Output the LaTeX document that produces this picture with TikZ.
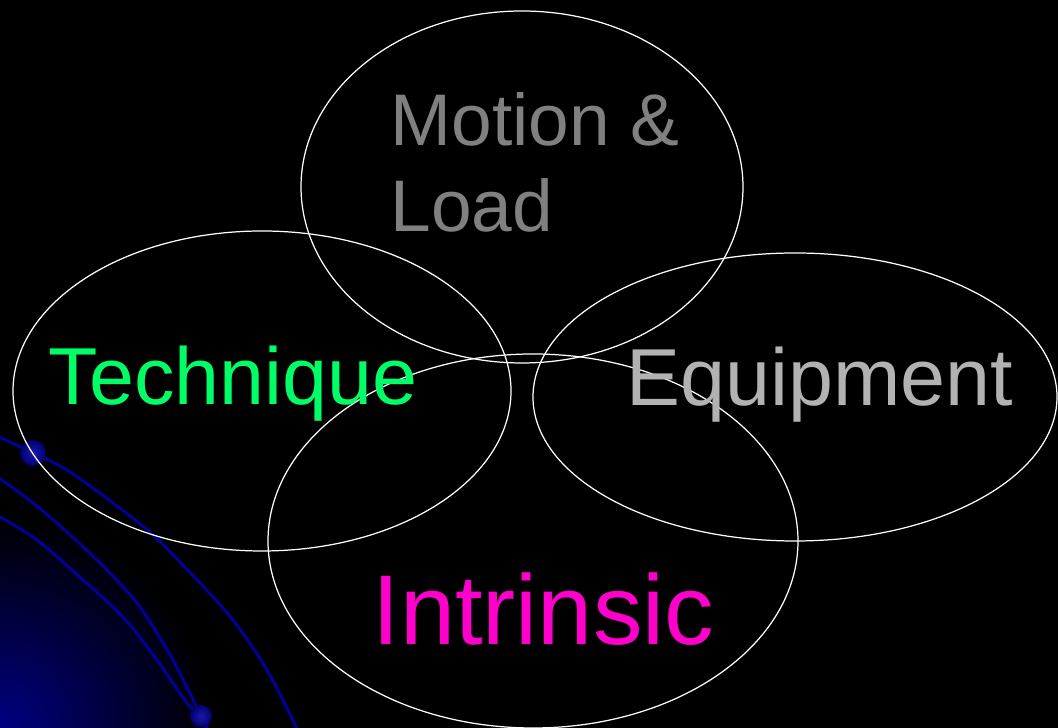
\documentclass[tikz,border=0pt]{standalone}
\usepackage{fontspec}
\setmainfont{Liberation Sans}
\usetikzlibrary{shapes.geometric}

\definecolor{motiongray}{RGB}{128,128,128}
\definecolor{equipgray}{RGB}{178,178,178}
\definecolor{techgreen}{RGB}{0,255,102}
\definecolor{intrmagenta}{RGB}{255,0,204}
\definecolor{swirlblue}{RGB}{0,0,160}
\definecolor{cornerblue}{RGB}{0,0,130}

\begin{document}
\begin{tikzpicture}[
		x=0.1mm, y=-0.1mm,
		% Styles
		ring/.style={draw=white, line width=0.35pt, ellipse, inner sep=0pt},
		word/.style={anchor=base west, inner sep=0pt, align=left},
		swirl/.style={draw=swirlblue, line width=0.8pt},
		bead/.style={inner color=swirlblue!90!white, outer color=swirlblue!70!black}
		]
		
		% =========================================================
		% 1. BACKGROUND: black slide with the blue corner
		% =========================================================
		\fill[black] (0,0) rectangle (1058,728);
		\useasboundingbox (0,0) rectangle (1058,728);
		
		\begin{scope}
			\clip (0,0) rectangle (1058,728);
			\shade[inner color=cornerblue, outer color=black] (0,728) circle[radius=21mm];
			
			% Swirl lines
			\draw[swirl] plot[smooth] coordinates {(-5,435) (33,453) (67,470) (113,503) (153,535) (197,580) (233,620) (267,670) (300,735)};
			\draw[swirl] plot[smooth] coordinates {(-5,475) (33,503) (67,532) (107,570) (140,607) (173,660) (201,716) (210,735)};
			\draw[swirl] plot[smooth] coordinates {(-5,514) (37,540) (83,580) (123,617) (157,660) (187,703) (201,716)};
			
			% Beads
			\shade[bead] (33,453) circle[radius=1.3mm];
			\shade[bead] (201,716) circle[radius=1.1mm];
		\end{scope}
		
		% =========================================================
		% 2. THE FOUR RINGS
		% =========================================================
		\node[ring, minimum width=44.2mm, minimum height=35.2mm] (motion) at (522,187) {};
		\node[ring, minimum width=49.8mm, minimum height=32mm] (technique) at (262,391) {};
		\node[ring, minimum width=52.4mm, minimum height=28.8mm] (equipment) at (795,397) {};
		\node[ring, minimum width=53mm, minimum height=37.4mm] (intrinsic) at (533,541) {};
		
		% =========================================================
		% 3. LABELS
		% =========================================================
		\node[word, text=motiongray, font=\fontsize{20.8}{24.75}\selectfont] (motionlbl) at (390,232) {Motion \&\\Load};
		\node[word, text=techgreen, font=\fontsize{23}{27}\selectfont] (techlbl) at (48,405) {Technique};
		\node[word, text=equipgray, font=\fontsize{23}{27}\selectfont] (equiplbl) at (626,406) {Equipment};
		\node[word, text=intrmagenta, font=\fontsize{28.2}{33}\selectfont] (intrlbl) at (372,645) {Intrinsic};
		
	\end{tikzpicture}
\end{document}
